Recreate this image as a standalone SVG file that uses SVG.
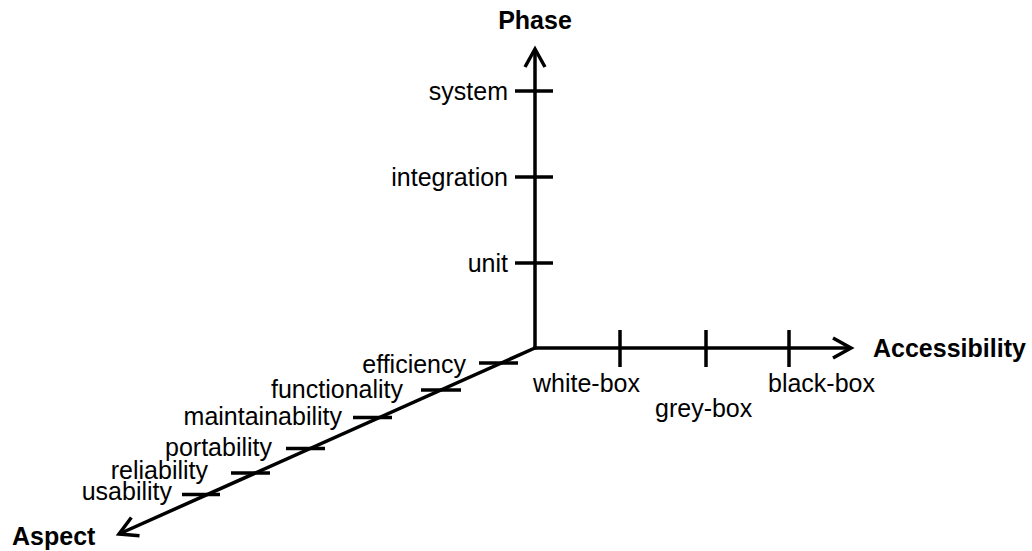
<svg xmlns="http://www.w3.org/2000/svg" width="1032" height="551" viewBox="0 0 1032 551">
  <style>
    .axis { fill: none; stroke: #000; stroke-width: 3.5; stroke-linejoin: miter; }
    .tick { fill: none; stroke: #000; stroke-width: 3.5; }
    .lbl { font-family: "Liberation Sans", Arial, sans-serif; font-size: 25px; fill: #000; }
    .title { font-family: "Liberation Sans", Arial, sans-serif; font-size: 25px; font-weight: bold; fill: #000; }
    .r { text-anchor: end; }
  </style>
  <defs>
    <marker id="arrow" markerUnits="userSpaceOnUse" viewBox="-22 -13 26 26" refX="0" refY="0" markerWidth="26" markerHeight="26" orient="auto" overflow="visible">
      <path d="M-18,-10 L0,0 L-18,10" fill="none" stroke="#000" stroke-width="3.5"/>
    </marker>
  </defs>
  <rect width="1032" height="551" fill="#fff"/>

  <g id="connectors">
    <path class="axis" d="M535,349.5 L535,49" marker-end="url(#arrow)"/>
    <path class="axis" d="M533.3,348 L851,348" marker-end="url(#arrow)"/>
    <path class="axis" d="M536,347.5 L119,534" marker-end="url(#arrow)"/>
  </g>

  <g id="title-phase"><text class="title" x="535" y="29" text-anchor="middle">Phase</text></g>
  <g id="title-accessibility"><text class="title" x="873" y="357">Accessibility</text></g>
  <g id="title-aspect"><text class="title" x="12" y="545">Aspect</text></g>

  <g id="phase-system"><line class="tick" x1="515" y1="91" x2="553" y2="91"/><text class="lbl r" x="508" y="99.5">system</text></g>
  <g id="phase-integration"><line class="tick" x1="515" y1="177" x2="553" y2="177"/><text class="lbl r" x="508" y="185.5">integration</text></g>
  <g id="phase-unit"><line class="tick" x1="515" y1="263" x2="553" y2="263"/><text class="lbl r" x="508" y="271.5">unit</text></g>

  <g id="acc-white-box"><line class="tick" x1="620" y1="330" x2="620" y2="367"/><text class="lbl" x="533" y="392">white-box</text></g>
  <g id="acc-grey-box"><line class="tick" x1="706" y1="330" x2="706" y2="367"/><text class="lbl" x="655" y="417">grey-box</text></g>
  <g id="acc-black-box"><line class="tick" x1="789" y1="330" x2="789" y2="367"/><text class="lbl" x="768" y="392">black-box</text></g>

  <g id="aspect-efficiency"><line class="tick" x1="479" y1="363" x2="518" y2="363"/><text class="lbl r" x="466" y="373">efficiency</text></g>
  <g id="aspect-functionality"><line class="tick" x1="421" y1="390" x2="461" y2="390"/><text class="lbl r" x="403" y="398">functionality</text></g>
  <g id="aspect-maintainability"><line class="tick" x1="353" y1="417.5" x2="392" y2="417.5"/><text class="lbl r" x="342" y="425">maintainability</text></g>
  <g id="aspect-portability"><line class="tick" x1="286" y1="448.5" x2="325" y2="448.5"/><text class="lbl r" x="272" y="455.5">portability</text></g>
  <g id="aspect-reliability"><line class="tick" x1="231" y1="473" x2="270" y2="473"/><text class="lbl r" x="208" y="478.5">reliability</text></g>
  <g id="aspect-usability"><line class="tick" x1="182" y1="494.5" x2="220" y2="494.5"/><text class="lbl r" x="172" y="500">usability</text></g>
</svg>
